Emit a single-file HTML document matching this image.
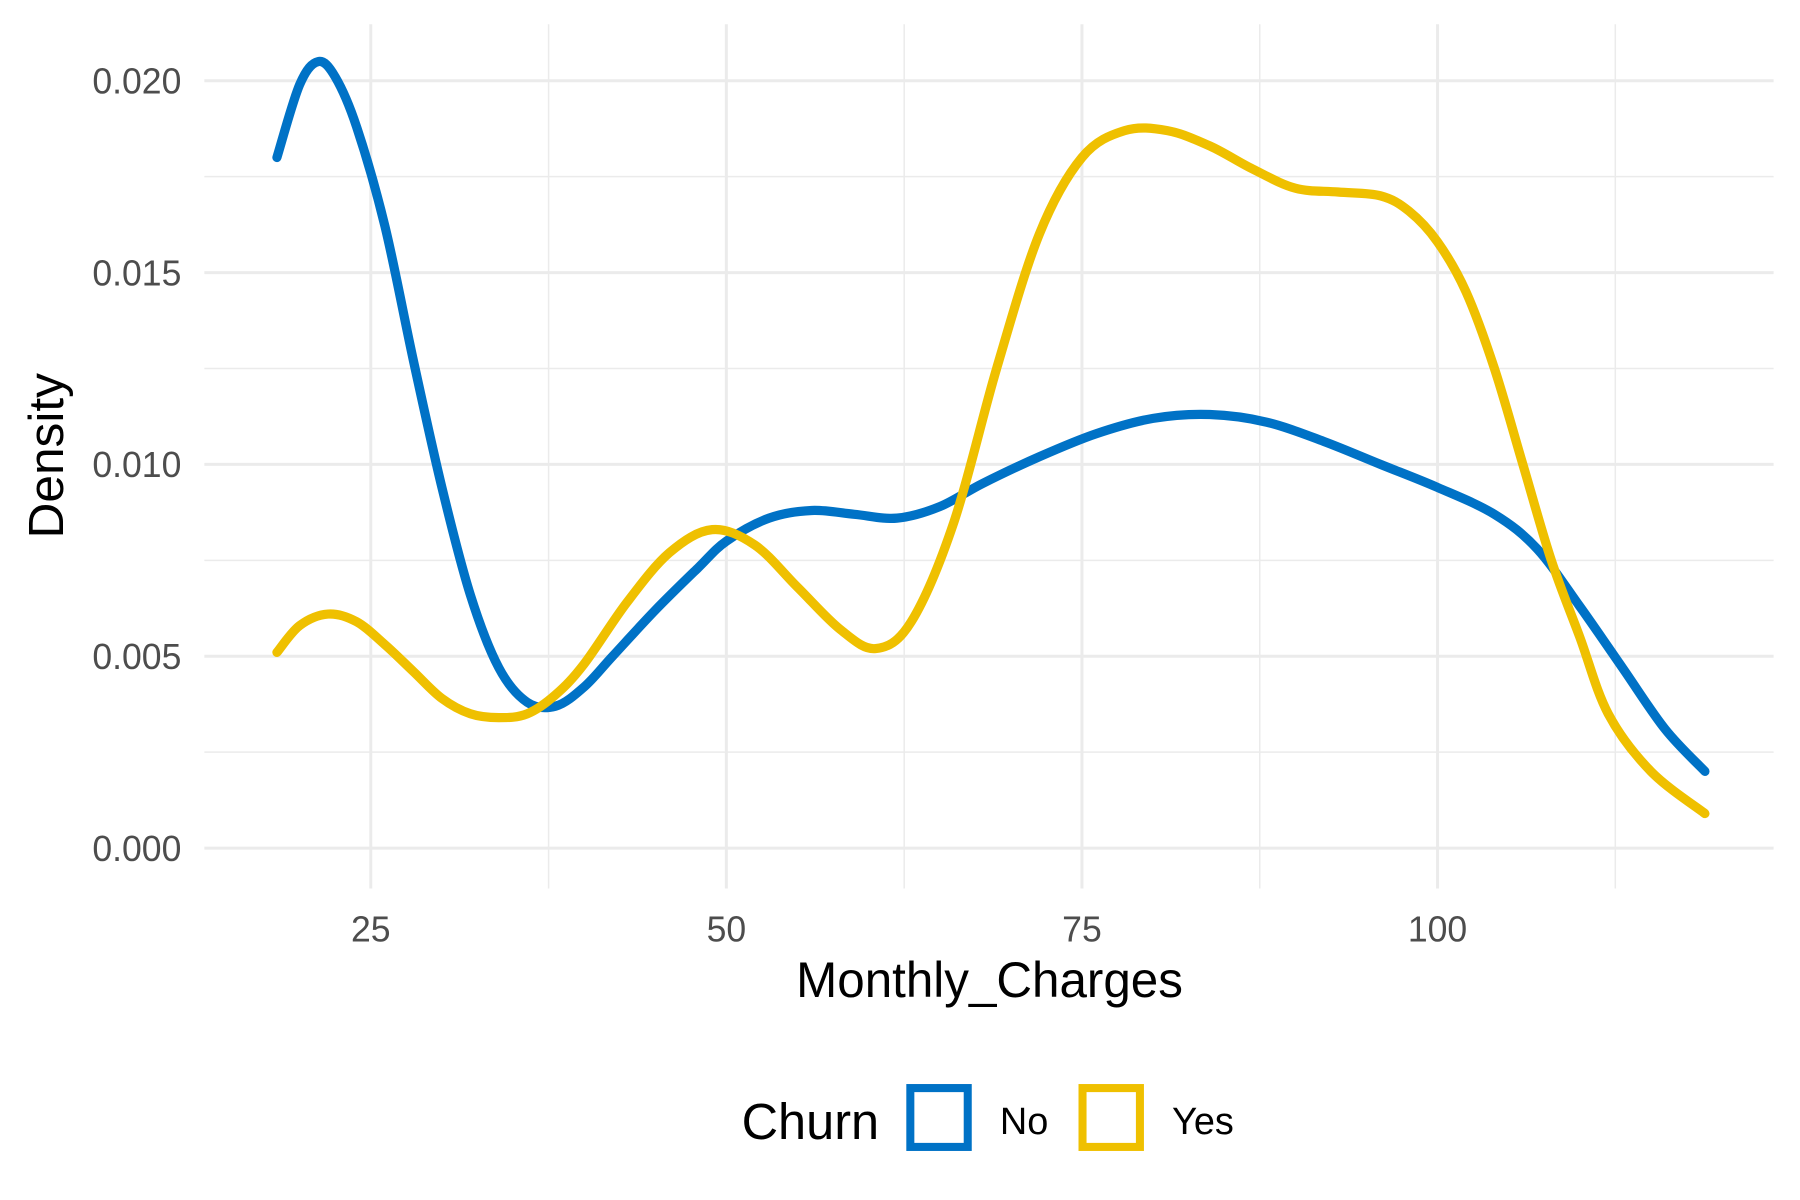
<!DOCTYPE html>
<html><head><meta charset="utf-8"><style>
html,body{margin:0;padding:0;background:#fff;}
svg{display:block;}
text{font-family:"Liberation Sans",Arial,sans-serif;}
</style></head><body>
<svg id="chart" width="1800" height="1200" viewBox="0 0 1568 1040" preserveAspectRatio="none" xmlns="http://www.w3.org/2000/svg">
<g id="grid"></g>
<g id="series"></g>
<g id="axes"></g>
<text x="862" y="864" font-size="43" text-anchor="middle" fill="#000">Monthly_Charges</text>
<text transform="translate(55,395) rotate(-90)" font-size="43" text-anchor="middle" fill="#000">Density</text>
<g>
<text x="646" y="987" font-size="44" fill="#000">Churn</text>
<rect x="793" y="943" width="50" height="51" fill="none" stroke="#0072C6" stroke-width="7"/>
<text x="871" y="983" font-size="33" fill="#000">No</text>
<rect x="943" y="943" width="50" height="51" fill="none" stroke="#EFC000" stroke-width="7"/>
<text x="1021" y="983" font-size="33" fill="#000">Yes</text>
</g>
</svg>
<script>
const xTicks = [25, 50, 75, 100];
const xMinor = [37.5, 62.5, 87.5, 112.5];
const yTicks = [0, 0.005, 0.010, 0.015, 0.020];
const yTickLabels = ["0.000", "0.005", "0.010", "0.015", "0.020"];
const yMinor = [0.0025, 0.0075, 0.0125, 0.0175];
const noX = [18.4,20,21.3,22.5,24,26,28,30,32,34,36,38,40,42,45,48,50,53,56,59,62,65,68,72,76,80,84,88,92,96,100,104,107,110,113,116,118.8];
const noY = [0.0180,0.0199,0.0205,0.0201,0.0188,0.0162,0.0127,0.0094,0.0066,0.0047,0.0038,0.0037,0.0042,0.0050,0.0062,0.0073,0.0080,0.0086,0.0088,0.0087,0.0086,0.0089,0.0095,0.0102,0.0108,0.0112,0.0113,0.0111,0.0106,0.0100,0.0094,0.0087,0.0078,0.0063,0.0047,0.0031,0.0020];
const yesX = [18.4,20,22,24,26,28,30,32,34,36,38,40,43,46,49,52,55,58,60.5,63,66,69,72,75,78,81,84,87,90,93,96,98,100,102,104,106,108,110,112,115,118.8];
const yesY = [0.0051,0.0058,0.0061,0.0059,0.0053,0.0046,0.0039,0.0035,0.0034,0.0035,0.0040,0.0048,0.0064,0.0077,0.0083,0.0079,0.0068,0.0057,0.0052,0.0059,0.0085,0.0125,0.0160,0.0180,0.0187,0.0187,0.0183,0.0177,0.0172,0.0171,0.0170,0.0166,0.0158,0.0145,0.0125,0.0100,0.0075,0.0055,0.0035,0.0020,0.0009];

const NS = "http://www.w3.org/2000/svg";
const PL = 178, PR = 1545, PT = 21, PB = 770;
function sx(v){ return 13.25 + v * 12.39; }
function sy(v){ return 735 - v * 33250; }
function mk(tag, attrs, parent){
  const e = document.createElementNS(NS, tag);
  for (const k in attrs) e.setAttribute(k, attrs[k]);
  parent.appendChild(e); return e;
}
const grid = document.getElementById('grid');
const axes = document.getElementById('axes');
const series = document.getElementById('series');

yMinor.forEach(v => {
  const l = mk('line', {x1:PL, x2:PR, y1:sy(v), y2:sy(v), stroke:'#ebebeb', 'stroke-width':1.3}, grid);
  
  
});
xMinor.forEach(v => {
  const l = mk('line', {x1:sx(v), x2:sx(v), y1:PT, y2:PB, stroke:'#ebebeb', 'stroke-width':1.3}, grid);
  
  
});
yTicks.forEach((v, i) => {
  const l = mk('line', {x1:PL, x2:PR, y1:sy(v), y2:sy(v), stroke:'#ebebeb', 'stroke-width':2.6}, grid);
  
  
  const t = mk('text', {x:158, y:sy(v)+11, 'font-size':31, 'text-anchor':'end', fill:'#4d4d4d'}, axes);
  t.textContent = yTickLabels[i];
  
  
});
xTicks.forEach(v => {
  const l = mk('line', {x1:sx(v), x2:sx(v), y1:PT, y2:PB, stroke:'#ebebeb', 'stroke-width':2.6}, grid);
  
  
  const t = mk('text', {x:sx(v), y:816, 'font-size':31, 'text-anchor':'middle', fill:'#4d4d4d'}, axes);
  t.textContent = String(v);
  
  
});

function smoothPath(xs, ys){
  const p = xs.map((x, i) => [sx(x), sy(ys[i])]);
  let d = 'M' + p[0][0] + ',' + p[0][1];
  for (let i = 0; i < p.length - 1; i++){
    const p0 = p[i-1] || p[i], p1 = p[i], p2 = p[i+1], p3 = p[i+2] || p2;
    const c1 = [p1[0] + (p2[0]-p0[0])/6, p1[1] + (p2[1]-p0[1])/6];
    const c2 = [p2[0] - (p3[0]-p1[0])/6, p2[1] - (p3[1]-p1[1])/6];
    d += ' C' + c1 + ' ' + c2 + ' ' + p2;
  }
  return d;
}
const lineNo = mk('path', {d:smoothPath(noX, noY), fill:'none', stroke:'#0072C6', 'stroke-width':8, 'stroke-linecap':'round', 'stroke-linejoin':'round'}, series);


const lineYes = mk('path', {d:smoothPath(yesX, yesY), fill:'none', stroke:'#EFC000', 'stroke-width':8, 'stroke-linecap':'round', 'stroke-linejoin':'round'}, series);


</script>
</body></html>
